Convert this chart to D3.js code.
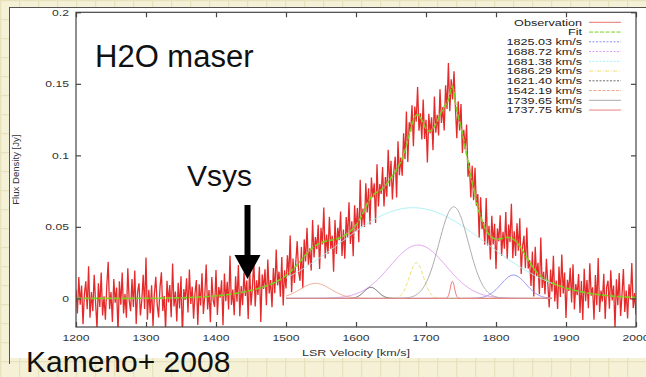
<!DOCTYPE html>
<html><head><meta charset="utf-8">
<script src="https://cdn.jsdelivr.net/npm/d3@7"></script>
<style>
html,body{margin:0;padding:0;background:#f4f1d7;}
svg{display:block;}
</style></head><body>
<svg id="c" width="646" height="377"></svg>
<script>
// ---------- DATA ----------
const xTicks = [1200,1300,1400,1500,1600,1700,1800,1900,2000];
const yTicks = [0,0.05,0.1,0.15,0.2];
const yTickLabels = ["0","0.05","0.1","0.15","0.2"];
const xDomain = [1200,2000];
const yDomain = [-0.02,0.2];
// observation channels: 1200..2000 km/s every 2 km/s ; residuals about the fit (unit = 1.5 mJy)
const obsStart = 1200, obsStep = 2, residualUnitJy = 0.0015;
const residuals = [
4,-7,10,-3,6,-12,2,8,-5,15,-9,3,-6,11,-2,-14,7,-4,12,-8,
1,-10,6,17,-5,3,-11,9,-2,5,-16,8,-3,12,-7,2,-9,14,-1,-6,
9,-4,13,-12,3,7,-8,-1,11,-5,19,-10,4,-7,6,-13,2,10,-3,-9,
5,12,-6,1,-15,8,-2,6,-9,16,-4,3,-11,7,-5,10,-18,4,-1,9,
-7,13,-3,5,-10,2,8,-13,6,-4,11,-8,1,15,-6,3,-12,9,-2,-5,
12,-9,4,-1,7,-14,10,-3,6,-7,18,-5,2,-10,8,-4,13,-11,3,-6,
9,-2,5,-13,11,-7,1,14,-8,4,-3,10,-16,6,-1,8,-9,12,-4,2,
-11,7,-5,15,-2,4,-8,10,-13,3,-6,9,-1,17,-10,5,-7,2,11,-4,
-9,6,-14,8,-3,12,-6,1,-10,13,-5,4,-2,9,-12,7,-1,16,-8,3,
-6,11,-4,2,-15,9,-7,5,-1,12,-9,3,-11,8,-2,14,-6,4,-13,10,
-3,7,-10,18,-5,2,-8,11,-4,6,-12,9,-1,5,-14,13,-7,3,-2,10,
-9,4,-6,15,-3,8,-11,1,7,-13,12,-5,2,-8,10,-4,16,-10,6,-1,
9,-12,5,-3,13,-7,2,-9,11,-6,4,-15,8,-1,6,-10,14,-4,3,-8,
12,-5,1,-11,9,-3,17,-8,4,-6,10,-2,-13,7,-4,11,-9,5,-1,14,
-7,3,-10,8,-5,13,-2,6,-12,9,-4,1,-8,15,-6,4,-11,10,-3,7,
-14,5,-1,11,-8,3,-5,12,-10,6,-2,16,-9,4,-7,9,-3,13,-12,2,
8,-6,14,-4,1,-10,7,-13,11,-2,5,-9,18,-5,3,-7,10,-1,-12,6,
-4,13,-8,2,-11,9,-5,15,-3,7,-14,4,-1,10,-6,12,-9,3,-2,8,
-10,5,-13,11,-4,6,-7,14,-1,3,-12,9,-5,17,-8,2,-3,10,-11,4,
7,-6,12,-2,5,-15,8,-4,11,-9,1,13,-7,3,-10,6,-1,16,-5,2,
-8];
// Gaussian fit components (legend order)
const compLabels  = ["1825.03 km/s","1688.72 km/s","1681.38 km/s","1686.29 km/s","1621.40 km/s","1542.19 km/s","1739.65 km/s","1737.75 km/s"];
const compCenters = [1825.03,1688.72,1681.38,1686.29,1621.40,1542.19,1739.65,1737.75];
const compAmps    = [0.0163,0.0373,0.0634,0.025,0.0077,0.0105,0.064,0.012];
const compSigmas  = [18,40,105,10,10,22,21,3];
const compRange   = [1500,1880];
const compColors  = ["#8c8cf6","#e09cf2","#a4f0f4","#efe070","#6a6a6a","#f0a88c","#ababab","#ee7e7e"];
const compPlotDash = [null,null,null,"4,2",null,null,null,null];
const compLegDash  = ["2,1.5","2,1.5","2,1.5","4,1.5,1,1.5","2,1.5","3,1.5",null,null];
const vsys = 1445;

// ---------- SETUP ----------
const svg = d3.select("#c");
const W = 646, H = 377;
const m = {l:76, r:636, t:12.3, b:327};
const x = d3.scaleLinear().domain(xDomain).range([m.l, m.r]);
const y = d3.scaleLinear().domain(yDomain).range([m.b, m.t]);

// background parchment grid
const defs = svg.append("defs");
const pat = defs.append("pattern").attr("id","grid").attr("width",19).attr("height",19)
  .attr("patternUnits","userSpaceOnUse");
pat.append("rect").attr("width",19).attr("height",19).attr("fill","#f4f1d7");
pat.append("path").attr("d","M0,0.5H19M0.5,0V19").attr("stroke","#e7e2bd").attr("stroke-width",1.5);
svg.append("rect").attr("width",W).attr("height",H).attr("fill","url(#grid)");
// white panel
svg.append("rect").attr("x",9).attr("y",7).attr("width",W-9).attr("height",351).attr("fill","#ffffff");
svg.append("line").attr("x1",9).attr("x2",W).attr("y1",7.5).attr("y2",7.5).attr("stroke","#555").attr("stroke-width",1);
svg.append("line").attr("x1",9.5).attr("x2",9.5).attr("y1",7).attr("y2",364).attr("stroke","#555").attr("stroke-width",1);

defs.append("clipPath").attr("id","clip").append("rect")
  .attr("x",m.l).attr("y",m.t).attr("width",m.r-m.l).attr("height",m.b-m.t);

const gauss = (v,i) => compAmps[i]*Math.exp(-Math.pow(v-compCenters[i],2)/(2*compSigmas[i]*compSigmas[i]));
const model = v => compCenters.reduce((s,c,i)=>s+gauss(v,i),0);

const fineV = d3.range(xDomain[0], xDomain[1]+0.5, 1);
const obs = residuals.map((r,i)=>{const v=obsStart+i*obsStep; return [v, model(v)+r*residualUnitJy];});

const plot = svg.append("g").attr("clip-path","url(#clip)");
const line = d3.line().x(d=>x(d[0])).y(d=>y(d[1]));

// observation
plot.append("path").datum(obs).attr("d",line).attr("fill","none")
  .attr("stroke","#e42a2a").attr("stroke-width",1.3).attr("stroke-linejoin","miter");
// fit
plot.append("path").datum(fineV.map(v=>[v,model(v)])).attr("d",line).attr("fill","none")
  .attr("stroke","#78d21e").attr("stroke-width",1.6).attr("stroke-dasharray","6,1.5");
// components
const compV = d3.range(compRange[0], compRange[1]+0.5, 1);
compCenters.forEach((c,i)=>{
  plot.append("path").datum(compV.map(v=>[v,gauss(v,i)])).attr("d",line).attr("fill","none")
    .attr("stroke",compColors[i]).attr("stroke-width",1)
    .attr("stroke-dasharray",compPlotDash[i]);
});

// frame
svg.append("rect").attr("x",m.l).attr("y",m.t).attr("width",m.r-m.l).attr("height",m.b-m.t)
  .attr("fill","none").attr("stroke","#444").attr("stroke-width",1.2);

// axes (inward ticks, mirrored)
const fontPlot = "'Liberation Sans', Arial, Helvetica, sans-serif";
const xb = svg.append("g").attr("transform",`translate(0,${m.b})`)
  .call(d3.axisBottom(x).tickValues(xTicks).tickSizeInner(-5).tickSizeOuter(0).tickFormat(""));
const xt = svg.append("g").attr("transform",`translate(0,${m.t})`)
  .call(d3.axisTop(x).tickValues(xTicks).tickSizeInner(-5).tickSizeOuter(0).tickFormat(""));
const yl = svg.append("g").attr("transform",`translate(${m.l},0)`)
  .call(d3.axisLeft(y).tickValues(yTicks).tickSizeInner(-5).tickSizeOuter(0).tickFormat(""));
const yr = svg.append("g").attr("transform",`translate(${m.r},0)`)
  .call(d3.axisRight(y).tickValues(yTicks).tickSizeInner(-5).tickSizeOuter(0).tickFormat(""));
[xb,xt,yl,yr].forEach(g=>{g.select(".domain").remove(); g.selectAll("line").attr("stroke","#444").attr("stroke-width",1.2);});

function stretchedText(parent, tx, ty, str, size, sx, anchor, color){
  return parent.append("text").attr("transform",`translate(${tx},${ty}) scale(${sx},1)`)
    .attr("text-anchor",anchor).attr("font-family",fontPlot).attr("font-size",size)
    .attr("fill",color||"#333").text(str);
}
xTicks.forEach(v=>stretchedText(svg, x(v), 341, String(v), 9.5, 1.28, "middle"));
yTicks.forEach((v,i)=>stretchedText(svg, 69, y(v)+3.3, yTickLabels[i], 9.5, 1.28, "end"));

stretchedText(svg, (m.l+m.r)/2, 355.5, "LSR Velocity [km/s]", 9.8, 1.28, "middle");
svg.append("text").attr("transform",`translate(19,${(m.t+m.b)/2}) rotate(-90)`)
  .attr("text-anchor","middle").attr("font-family",fontPlot).attr("font-size",9.6).attr("fill","#333")
  .text("Flux Density [Jy]");

// legend
const legLabels = ["Observation","Fit"].concat(compLabels);
const legColors = ["#ec7070","#78d21e"].concat(compColors);
const legDash = [null,"4,1.5"].concat(compLegDash);
legLabels.forEach((t,i)=>{
  const cy = 22.3 + i*9.75;
  stretchedText(svg, 582, cy+3.4, t, 9.7, 1.3, "end", "#222");
  svg.append("line").attr("x1",589).attr("x2",621).attr("y1",cy).attr("y2",cy)
    .attr("stroke",legColors[i]).attr("stroke-width",1).attr("stroke-dasharray",legDash[i]);
});

// annotations
const fontBig = "'Liberation Sans', Arial, Helvetica, sans-serif";
svg.append("text").attr("x",95).attr("y",67).attr("font-family",fontBig).attr("font-size",31).attr("fill","#111").text("H2O maser");
svg.append("text").attr("x",187).attr("y",186).attr("font-family",fontBig).attr("font-size",30).attr("fill","#111").text("Vsys");
svg.append("text").attr("x",26).attr("y",372).attr("font-family",fontBig).attr("font-size",30).attr("fill","#111").text("Kameno+ 2008");

const ax = x(vsys);
svg.append("line").attr("x1",ax).attr("x2",ax).attr("y1",205).attr("y2",258).attr("stroke","#000").attr("stroke-width",6);
svg.append("path").attr("d",`M${ax-13},255L${ax+13},255L${ax},279Z`).attr("fill","#000");
</script>
</body></html>
